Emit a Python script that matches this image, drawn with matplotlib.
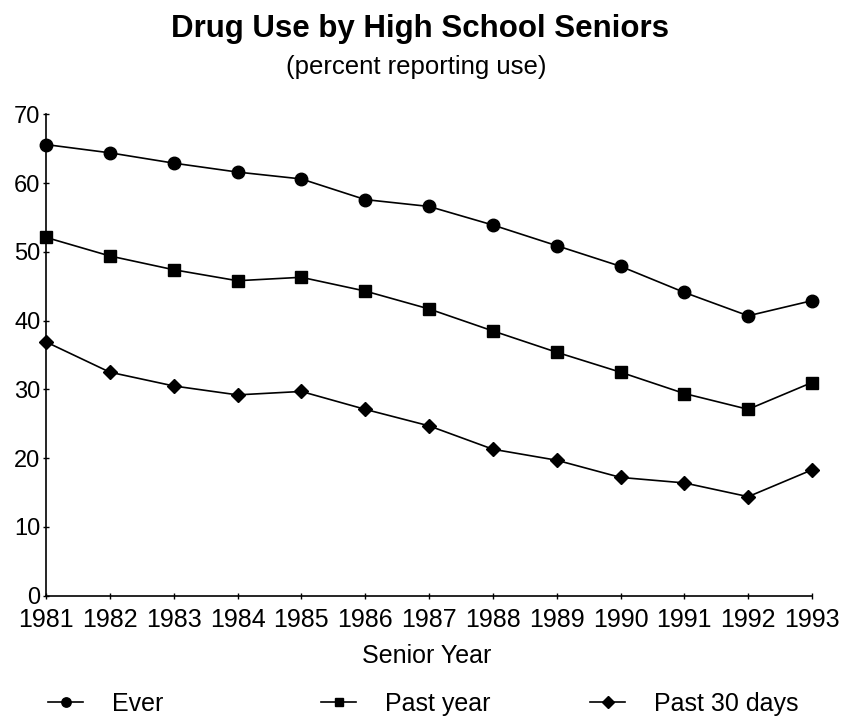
import matplotlib
matplotlib.use("Agg")
import matplotlib.pyplot as plt
from matplotlib.lines import Line2D

plt.rcParams['font.family'] = ['Liberation Sans', 'DejaVu Sans']

years = [1981, 1982, 1983, 1984, 1985, 1986, 1987, 1988, 1989, 1990, 1991, 1992, 1993]
ever = [65.6, 64.4, 62.9, 61.6, 60.6, 57.6, 56.6, 53.9, 50.9, 47.9, 44.1, 40.7, 42.9]
past_year = [52.1, 49.4, 47.4, 45.8, 46.3, 44.3, 41.7, 38.5, 35.4, 32.5, 29.4, 27.1, 31.0]
past_30 = [36.9, 32.5, 30.5, 29.2, 29.7, 27.1, 24.7, 21.3, 19.7, 17.2, 16.4, 14.4, 18.3]
yticks = [0, 10, 20, 30, 40, 50, 60, 70]

fig = plt.figure(figsize=(8.42, 7.17), dpi=100)
ax = fig.add_axes([46/842, 1-595.7/717, (812-46)/842, (595.7-114.3)/717])

series = [(ever, 'o', 9, 'Ever'), (past_year, 's', 8.5, 'Past year'), (past_30, 'D', 7.5, 'Past 30 days')]
handles = []
for vals, mk, ms, lab in series:
    l, = ax.plot(years, vals, color='black', lw=1.2, marker=mk, markersize=ms,
                 markerfacecolor='black', markeredgecolor='black', clip_on=False, label=lab)
    handles.append(l)

ax.set_xlim(1981, 1993)
ax.set_ylim(0, 70)
ax.set_xticks(years)
ax.set_xticklabels([str(y) for y in years])
ax.set_yticks(yticks)
for s in ['top', 'right']:
    ax.spines[s].set_visible(False)
for s in ['left', 'bottom']:
    ax.spines[s].set_linewidth(1.2)
ax.tick_params(axis='both', direction='inout', length=5, width=1, colors='black')
ax.tick_params(axis='x', pad=6, labelsize=18)
ax.tick_params(axis='y', pad=1.5, labelsize=17)

fig.text(420/842, 1-37/717, 'Drug Use by High School Seniors', ha='center', va='baseline',
         fontsize=22.5, fontweight='bold')
fig.text(416/842, 1-74/717, '(percent reporting use)', ha='center', va='baseline', fontsize=18.5)
fig.text(427/842, 1-663/717, 'Senior Year', ha='center', va='baseline', fontsize=18)

starts = [48, 321, 590]
for h, x0 in zip(handles, starts):
    hl = Line2D([], [], color='black', lw=1.2, marker=h.get_marker(),
                markersize=h.get_markersize()*0.75, markerfacecolor='black')
    fig.legend([hl], [h.get_label()], loc='center left', bbox_to_anchor=(x0/842, 1-704/717),
               frameon=False, fontsize=18, borderpad=0, borderaxespad=0,
               handlelength=1.4, handletextpad=1.15)

fig.savefig('out.png', dpi=100)
